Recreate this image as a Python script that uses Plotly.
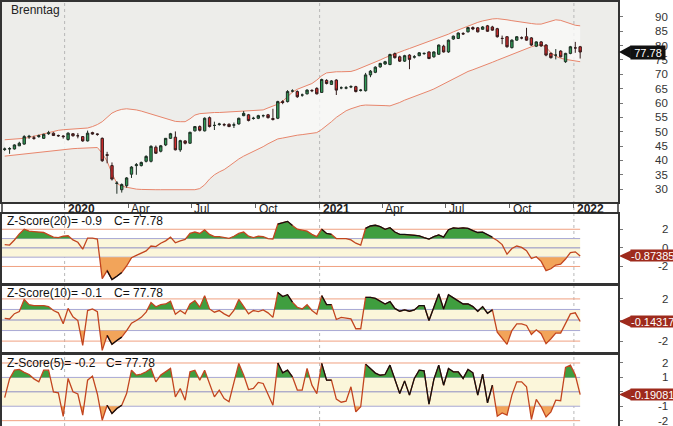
import numpy as np
import pandas as pd
import plotly.graph_objects as go

# ---------------- data (weekly) ----------------
dates = pd.date_range("2019-10-07", periods=119, freq="7D")

opens = [43.8,44.0,44.0,45.1,45.7,48.2,47.9,48.3,47.7,49.3,
         49.5,48.7,48.5,47.3,49.3,48.6,48.3,46.8,49.7,49.2,
         47.7,42.0,38.2,32.0,29.8,31.2,35.2,38.2,38.2,39.7,
         39.7,44.6,43.2,45.4,47.7,48.1,43.7,46.8,46.0,50.3,
         51.8,50.3,54.9,52.2,52.5,52.5,52.6,52.3,52.7,55.6,
         55.9,54.6,54.7,55.6,55.9,54.6,54.7,60.5,60.5,64.2,
         64.0,62.8,63.2,64.4,65.1,63.7,67.9,66.5,68.0,65.3,
         65.2,65.6,65.7,64.4,64.3,69.8,70.7,72.6,73.6,73.4,
         77.2,76.1,74.6,76.7,76.0,76.5,77.2,77.8,76.1,77.0,
         79.8,77.8,82.3,82.5,84.2,84.8,86.3,86.2,85.7,86.9,
         86.5,85.9,82.5,83.1,79.3,81.9,82.7,83.1,82.7,79.8,
         81.3,80.2,77.3,76.7,78.1,74.4,77.3,79.2,79.6]
highs = [44.5,44.6,45.6,46.5,48.8,48.9,48.6,49.0,49.3,50.3,
         49.8,49.0,48.8,49.8,49.5,49.5,48.5,50.4,50.0,49.4,
         48.0,43.0,39.3,32.8,32.0,34.2,38.0,39.1,39.6,41.8,
         45.3,45.2,45.4,47.8,49.6,50.1,47.2,47.0,50.0,52.0,
         52.2,55.0,55.3,53.5,53.1,53.0,52.9,53.2,54.9,57.2,
         56.2,55.2,55.9,56.0,56.2,58.0,60.8,61.0,64.5,64.8,
         64.4,63.3,64.8,64.8,65.5,68.5,68.3,68.0,68.3,65.8,
         65.9,66.2,66.0,64.9,70.5,71.5,72.8,74.0,74.7,77.2,
         77.6,76.5,76.8,77.0,76.7,77.7,77.6,78.0,78.0,80.4,
         80.3,82.1,83.5,84.6,84.7,86.5,86.7,86.5,86.8,87.2,
         86.9,86.2,83.5,83.3,82.2,83.3,83.2,86.2,83.0,81.5,
         81.6,80.5,77.6,78.8,78.4,77.5,79.9,81.3,79.9]
lows = [43.3,42.3,43.8,45.0,45.5,47.5,47.2,47.9,47.5,48.9,
        48.5,48.2,47.6,46.9,48.3,47.7,46.5,46.6,49.0,48.6,
        39.5,39.0,33.0,28.4,28.8,30.5,33.9,35.0,37.9,39.3,
        39.3,42.3,42.8,45.0,47.5,43.5,43.0,45.6,45.8,50.1,
        50.1,50.1,51.5,50.6,52.1,51.9,51.6,51.3,52.5,55.4,
        53.6,54.2,54.4,55.0,54.6,53.9,54.4,59.6,60.2,63.7,
        61.8,62.2,63.0,63.8,63.0,63.5,66.5,66.3,62.8,64.8,
        64.8,65.2,63.7,64.0,64.0,69.0,70.4,72.3,73.3,73.2,
        75.5,74.3,74.3,71.8,75.5,76.3,76.8,75.3,75.8,76.8,
        77.6,77.5,82.0,82.3,83.7,84.6,85.4,84.6,85.5,84.8,
        85.2,82.8,80.5,79.3,79.0,81.7,82.2,81.7,79.9,79.5,
        79.6,76.3,75.5,75.2,75.9,74.0,77.0,77.5,75.5]
closes = [44.0,44.1,45.4,46.0,48.3,48.4,47.7,48.6,49.1,49.6,
          48.7,48.6,48.3,49.5,48.6,48.6,46.8,49.5,49.2,49.1,
          39.9,41.8,33.5,32.1,31.6,33.9,37.7,38.5,39.3,41.4,
          44.9,42.5,45.1,47.7,49.3,43.7,46.9,46.0,49.8,51.8,
          50.5,54.7,51.8,52.2,52.7,52.4,51.8,52.4,54.7,56.4,
          53.9,54.7,55.6,55.6,54.9,54.3,60.5,60.2,64.0,64.2,
          62.2,62.8,64.5,64.3,63.2,68.2,66.8,67.7,64.5,65.3,
          65.3,65.7,64.0,64.5,69.8,71.1,72.5,73.8,74.4,76.9,
          75.8,74.6,76.5,75.2,76.1,77.5,77.3,75.5,77.8,80.2,
          77.8,81.9,83.3,84.4,84.1,86.3,85.8,84.8,86.5,85.0,
          85.4,83.1,82.5,79.6,81.9,83.1,82.7,81.9,80.2,81.3,
          79.9,76.7,75.8,76.7,76.1,77.3,79.6,79.2,77.78]

bb_upper = [47.2,47.3,47.4,47.5,47.7,48.0,48.4,48.8,49.3,49.8,
            50.2,50.5,50.7,50.8,50.9,51.0,51.1,51.3,51.8,52.5,
            53.5,55.0,56.5,57.3,57.8,58.0,57.9,57.6,57.2,56.7,
            56.0,55.5,55.0,54.5,54.0,53.6,53.5,53.5,54.5,55.8,
            56.3,56.5,56.6,56.7,56.7,56.8,56.8,56.9,57.0,57.2,
            57.3,57.4,57.5,57.6,58.3,58.9,59.6,60.6,62.3,63.8,
            64.8,65.5,66.2,66.8,68.0,69.5,70.5,70.8,70.9,70.9,
            70.9,71.0,71.5,72.2,72.8,73.4,74.2,75.0,75.8,76.5,
            77.2,77.8,78.4,79.0,79.6,80.2,80.8,81.5,82.2,82.8,
            83.4,84.0,84.8,85.5,86.2,86.9,87.5,88.1,88.6,89.0,
            89.3,89.4,89.3,89.0,88.7,88.4,88.2,88.0,87.7,87.5,
            87.5,88.0,88.6,89.0,88.8,88.2,87.6,87.1,86.9]
bb_lower = [41.5,41.7,41.9,42.1,42.3,42.5,42.7,42.9,43.1,43.3,
            43.5,43.7,43.9,44.0,44.1,44.2,44.3,44.4,44.5,44.5,
            42.5,39.7,35.5,32.0,31.0,30.6,30.3,30.0,29.9,29.8,
            29.8,29.8,29.8,29.8,29.8,29.8,29.8,29.8,29.8,29.8,
            30.2,31.5,33.5,35.0,36.0,36.8,38.0,39.3,40.5,41.5,
            42.3,43.0,43.8,44.8,45.8,46.8,47.5,47.8,48.2,48.5,
            48.8,49.0,49.2,49.4,49.7,50.8,52.0,53.5,55.0,56.3,
            57.3,58.0,58.6,59.1,59.3,59.3,59.3,59.2,59.1,59.0,
            59.5,60.2,61.0,61.6,62.3,62.8,63.5,64.2,64.9,65.8,
            66.8,67.7,68.6,69.5,70.3,71.0,71.6,72.2,72.8,73.5,
            74.2,74.9,75.6,76.2,76.9,77.6,78.3,79.0,79.6,80.1,
            80.3,79.5,77.5,76.3,75.6,75.2,74.9,74.6,74.4]

z20 = [0.35,0.3,0.85,1.5,2.0,1.8,1.75,1.7,1.65,1.4,
       1.15,1.1,1.25,1.3,0.85,0.6,-0.14,1.05,1.05,0.95,
       -3.3,-2.45,-3.4,-3.05,-2.65,-1.95,-1.05,-0.8,-0.57,-0.32,
       0.2,0.14,0.5,0.75,1.15,0.55,0.75,0.9,1.55,1.7,
       1.55,1.93,1.45,1.2,1.2,1.1,1.03,1.25,1.55,1.7,
       1.25,1.1,1.25,1.2,1.0,0.95,2.55,2.7,2.85,2.4,
       2.0,1.9,1.8,1.45,1.2,2.0,1.55,1.45,1.0,1.0,
       1.0,0.85,0.5,0.3,2.1,2.35,2.43,2.28,2.0,2.17,
       1.7,1.46,1.46,1.4,1.36,1.3,1.1,0.95,1.2,1.4,
       1.15,1.95,2.15,2.1,2.15,2.1,1.85,1.65,1.7,1.4,
       1.15,0.8,0.35,-0.68,-0.07,0.2,0.05,-0.3,-1.15,-0.95,
       -1.45,-2.45,-2.25,-1.85,-1.75,-1.2,-0.5,-0.43,-0.87385]
z10 = [0.15,0.1,0.6,0.8,1.95,1.45,1.37,1.37,1.37,1.27,
       0.9,0.68,-0.35,1.1,0.3,-0.05,-2.4,0.9,1.05,0.8,
       -2.88,-1.46,-2.3,-1.95,-1.62,-1.0,-0.3,-0.05,0.25,0.75,
       1.65,1.25,1.45,1.52,1.78,0.55,0.9,0.58,1.52,1.84,
       1.21,2.31,1.05,0.74,0.9,0.58,0.35,0.9,1.95,1.3,
       0.58,0.9,0.8,0.96,0.68,0.25,2.6,2.22,2.4,1.7,
       1.21,1.05,1.45,0.9,0.55,2.31,1.46,1.46,0.05,0.25,
       0.2,0.1,-0.83,-0.83,2.15,2.15,2.05,1.78,1.52,1.75,
       1.1,0.83,0.96,0.83,0.96,1.37,1.37,-0.05,1.2,2.47,
       1.05,2.4,2.1,1.84,1.52,1.52,1.27,0.83,1.27,0.64,
       0.96,-1.15,-1.78,-2.31,-1.0,-0.36,-0.36,-0.52,-1.37,-0.93,
       -1.3,-2.25,-1.78,-1.24,-1.24,-0.36,0.58,0.68,-0.14317]
z5 = [-0.4,0.9,1.5,1.55,1.35,1.2,0.9,0.7,1.5,1.5,
      0.0,-0.07,-1.7,0.93,0.0,-0.15,-1.62,0.81,1.09,-0.15,
      -1.97,-0.93,-1.5,-1.16,-0.93,-0.12,1.5,1.16,1.23,1.39,
      1.62,0.69,1.16,1.39,1.62,-0.35,0.23,-0.58,1.39,1.5,
      0.81,1.5,0.58,-0.35,0.12,-0.46,-0.69,0.58,1.97,1.16,
      0.16,0.23,0.65,0.58,-0.12,-0.93,2.0,1.32,1.5,1.04,
      0.12,0.12,1.62,0.46,-0.12,1.97,0.81,0.81,-0.5,-0.72,
      -0.65,0.35,-1.39,-1.04,1.92,1.62,1.3,1.15,1.2,1.85,
      0.9,-0.12,0.76,-0.23,0.93,1.5,1.46,-0.86,0.86,1.85,
      0.46,1.62,1.39,1.39,0.93,1.55,1.32,-0.23,1.23,-0.76,
      0.46,-1.69,-1.46,-1.62,-0.23,0.69,0.69,0.35,-1.92,-0.53,
      -1.04,-1.74,-1.39,-0.58,-0.62,1.69,1.85,1.16,-0.19081]

ticker = "Brenntag"
last_close_text = "77.78"
z_labels = ["Z-Score(20)= -0.9", "Z-Score(10)= -0.1", "Z-Score(5)= -0.2"]
z_box_text = ["-0.87385", "-0.14317", "-0.19081"]
month_labels = [("2020-01-01", "<b>2020</b>"), ("2020-04-01", "Apr"), ("2020-07-01", "Jul"),
                ("2020-10-01", "Oct"), ("2021-01-01", "<b>2021</b>"), ("2021-04-01", "Apr"),
                ("2021-07-01", "Jul"), ("2021-10-01", "Oct"), ("2022-01-01", "<b>2022</b>")]
price_ticks = list(range(30, 95, 5))
z_ticks = [[2, 0, -2], [2, -2], [2, 1, -1, -2]]

# black-highlighted stretches of the z-score lines (style)
black_ranges = [(21, 24), (56, 59), (65, 67), (74, 100)]

# ---------------- layout geometry ----------------
W, H = 673, 426
PR = 618
FONT = "Liberation Sans, Arial, sans-serif"


def py(p):
    return 1 - p / H


x0 = dates[0] - pd.Timedelta(days=3.86)
x1 = dates[0] + pd.Timedelta(days=880.3)

fig = go.Figure()

shapes = [dict(type="rect", xref="paper", yref="paper", x0=0, x1=1, y0=py(201), y1=1,
               fillcolor="#ededea", line=dict(width=0), layer="below")]

fig.add_trace(go.Scatter(x=dates, y=bb_lower, mode="lines", line=dict(color="#e8866c", width=1),
                         xaxis="x", yaxis="y", hoverinfo="skip"))
fig.add_trace(go.Scatter(x=dates, y=bb_upper, mode="lines", line=dict(color="#e8866c", width=1),
                         fill="tonexty", fillcolor="rgba(249,249,248,0.8)",
                         xaxis="x", yaxis="y", hoverinfo="skip"))

fig.add_trace(go.Candlestick(
    x=dates, open=opens, high=highs, low=lows, close=closes,
    increasing=dict(line=dict(color="#1e2e24", width=1), fillcolor="#2f9a55"),
    decreasing=dict(line=dict(color="#331c1c", width=1), fillcolor="#d22b2b"),
    whiskerwidth=0, xaxis="x", yaxis="y5", hoverinfo="skip"))

tns = dates.astype("int64").to_numpy().astype(float)


def fill_poly(z, thr, above):
    xs, ys = [], []
    n = len(z)
    for i in range(n):
        v = z[i]
        xs.append(tns[i])
        ys.append(max(v, thr) if above else min(v, thr))
        if i < n - 1 and (z[i] - thr) * (z[i + 1] - thr) < 0:
            f = (thr - z[i]) / (z[i + 1] - z[i])
            xs.append(tns[i] + f * (tns[i + 1] - tns[i]))
            ys.append(thr)
    xs += [tns[-1], tns[0]]
    ys += [thr, thr]
    return pd.to_datetime(np.array(xs).astype("int64")), ys


panels = [("y2", z20), ("y3", z10), ("y4", z5)]
for k, (ya, z) in enumerate(panels):
    xa = "x" + ya[1:]
    shapes.append(dict(type="rect", xref=xa, yref=ya, x0=x0, x1=dates[-1], y0=-1, y1=1,
                       fillcolor="#fbf6da", line=dict(width=0), layer="below"))
    for lv, col in [(2, "#f0a080"), (-2, "#f0a080"), (1, "#a8a8d4"), (0, "#8c8cc4"), (-1, "#a8a8d4")]:
        shapes.append(dict(type="line", xref=xa, yref=ya, x0=x0, x1=dates[-1], y0=lv, y1=lv,
                           line=dict(color=col, width=1), layer="below"))
    gx, gy = fill_poly(z, 1.0, True)
    fig.add_trace(go.Scatter(x=gx, y=gy, mode="lines", fill="toself", fillcolor="#3f9e3f",
                             line=dict(width=0), xaxis=xa, yaxis=ya, hoverinfo="skip"))
    ox, oy = fill_poly(z, -1.0, False)
    fig.add_trace(go.Scatter(x=ox, y=oy, mode="lines", fill="toself", fillcolor="#f2a45a",
                             line=dict(width=0), xaxis=xa, yaxis=ya, hoverinfo="skip"))
    fig.add_trace(go.Scatter(x=dates, y=z, mode="lines", line=dict(color="#c2451f", width=1.3),
                             xaxis=xa, yaxis=ya, hoverinfo="skip"))
    for a, b in black_ranges:
        fig.add_trace(go.Scatter(x=dates[a:b + 1], y=z[a:b + 1], mode="lines",
                                 line=dict(color="#111111", width=1.3),
                                 xaxis=xa, yaxis=ya, hoverinfo="skip"))

for yr in ["2020-01-01", "2021-01-01", "2022-01-01"]:
    shapes.append(dict(type="line", xref="x", yref="paper", x0=yr, x1=yr, y0=0, y1=1,
                       line=dict(color="#b8b8b8", width=1, dash="dot"), layer="below"))

shapes.append(dict(type="line", xref="paper", yref="paper", x0=0, x1=0, y0=py(213), y1=py(201),
                   line=dict(color="#333", width=1.5)))
shapes.append(dict(type="line", xref="paper", yref="paper", x0=1, x1=1, y0=py(213), y1=py(201),
                   line=dict(color="#333", width=1.5)))

annotations = []
LAB_R = 670 / PR
tfont = dict(size=11.5, color="#333", family=FONT)
for v in price_ticks:
    annotations.append(dict(x=LAB_R, y=v, xref="paper", yref="y", text=str(v), showarrow=False,
                            xanchor="right", yanchor="middle", font=tfont))
for k, ya in enumerate(["y2", "y3", "y4"]):
    for v in z_ticks[k]:
        annotations.append(dict(x=LAB_R, y=v, xref="paper", yref=ya, text=str(v), showarrow=False,
                                xanchor="right", yanchor="middle", font=tfont))

# value boxes: small arrow tip (shape) + box (annotation drawn over tick labels)
tip, bl = 619 / PR, 631 / PR
lc = closes[-1]
ppu = 173 / 60.0
hh = 6.5 / ppu
shapes.append(dict(type="path", xref="paper", yref="y",
                   path=f"M {tip},{lc} L {bl},{lc+hh} L {bl},{lc-hh} Z",
                   fillcolor="#111", line=dict(width=0), layer="above"))
annotations.append(dict(x=630.5 / PR, y=lc, xref="paper", yref="y", text=last_close_text, showarrow=False,
                        bgcolor="#111", width=34, height=13, borderpad=0, align="center",
                        font=dict(color="white", size=11, family=FONT), xanchor="left", yanchor="middle"))

zppu = [9.35, 10.6, 14.5]
for k, (ya, z) in enumerate(panels):
    v = z[-1]
    h = 5.5 / zppu[k]
    shapes.append(dict(type="path", xref="paper", yref=ya,
                       path=f"M {tip},{v} L {bl},{v+h} L {bl},{v-h} Z",
                       fillcolor="#9e2a1c", line=dict(width=0), layer="above"))
    annotations.append(dict(x=630.5 / PR, y=v, xref="paper", yref=ya, text=z_box_text[k], showarrow=False,
                            bgcolor="#9e2a1c", width=46, height=11, borderpad=0, align="left",
                            font=dict(color="white", size=11, family=FONT), xanchor="left", yanchor="middle"))

annotations.append(dict(x=7 / PR, y=py(8), xref="paper", yref="paper", text=ticker, showarrow=False,
                        xanchor="left", yanchor="middle", font=dict(size=12, color="#222", family=FONT)))
title_y = [220, 292.5, 362.5]
c_x = [110, 110, 102]
for k in range(3):
    annotations.append(dict(x=3 / PR, y=py(title_y[k]), xref="paper", yref="paper", text=z_labels[k],
                            showarrow=False, xanchor="left", yanchor="middle",
                            font=dict(size=12, color="#111", family=FONT)))
    annotations.append(dict(x=c_x[k] / PR, y=py(title_y[k]), xref="paper", yref="paper",
                            text="C= " + last_close_text, showarrow=False, xanchor="left", yanchor="middle",
                            font=dict(size=12, color="#111", family=FONT)))

for d, t in month_labels:
    annotations.append(dict(x=d, y=py(207.5), xref="x", yref="paper", text=t, showarrow=False,
                            xanchor="left", yanchor="middle", xshift=1,
                            font=dict(size=12, color="#222", family=FONT)))

quarter_ticks = pd.date_range("2019-10-01", "2022-01-01", freq="QS")

axl = dict(showline=True, linecolor="#333", linewidth=1.5, mirror=True, showgrid=False, zeroline=False)
ytick = dict(ticks="outside", ticklen=3, tickcolor="#777", showticklabels=False)
PRANGE = [25.5, 95.2]

fig.update_layout(
    width=W, height=H, margin=dict(l=0, r=W - PR, t=0, b=0, pad=0),
    paper_bgcolor="white", plot_bgcolor="white", showlegend=False,
    font=dict(family=FONT, size=11, color="#222"),
    xaxis=dict(domain=[0, 1], anchor="y", type="date", range=[x0, x1], rangeslider=dict(visible=False),
               showticklabels=False, ticks="outside", ticklen=4, tickcolor="#666", tickvals=list(quarter_ticks), **axl),
    yaxis=dict(domain=[py(201), 1], anchor="x", side="right", range=PRANGE, tickvals=price_ticks, **ytick, **axl),
    yaxis5=dict(overlaying="y", anchor="x", side="right", range=PRANGE, showticklabels=False, ticks="",
                showgrid=False, zeroline=False, showline=False),
    xaxis2=dict(domain=[0, 1], anchor="y2", matches="x", showticklabels=False, **axl),
    yaxis2=dict(domain=[py(283), py(213)], anchor="x2", side="right", range=[-3.85, 3.64],
                tickvals=[2, 0, -2], **ytick, **axl),
    xaxis3=dict(domain=[0, 1], anchor="y3", matches="x", showticklabels=False, **axl),
    yaxis3=dict(domain=[py(353), py(284)], anchor="x3", side="right", range=[-3.16, 3.35],
                tickvals=[2, 0, -2], **ytick, **axl),
    xaxis4=dict(domain=[0, 1], anchor="y4", matches="x", showticklabels=False, **axl),
    yaxis4=dict(domain=[0, py(354)], anchor="x4", side="right", range=[-2.37, 2.6],
                tickvals=[2, 1, 0, -1, -2], **ytick, **axl),
    shapes=shapes, annotations=annotations,
)

fig.write_html("out.html", config={"displayModeBar": False},
               post_script="document.body.style.margin='0';document.body.style.padding='0';")
